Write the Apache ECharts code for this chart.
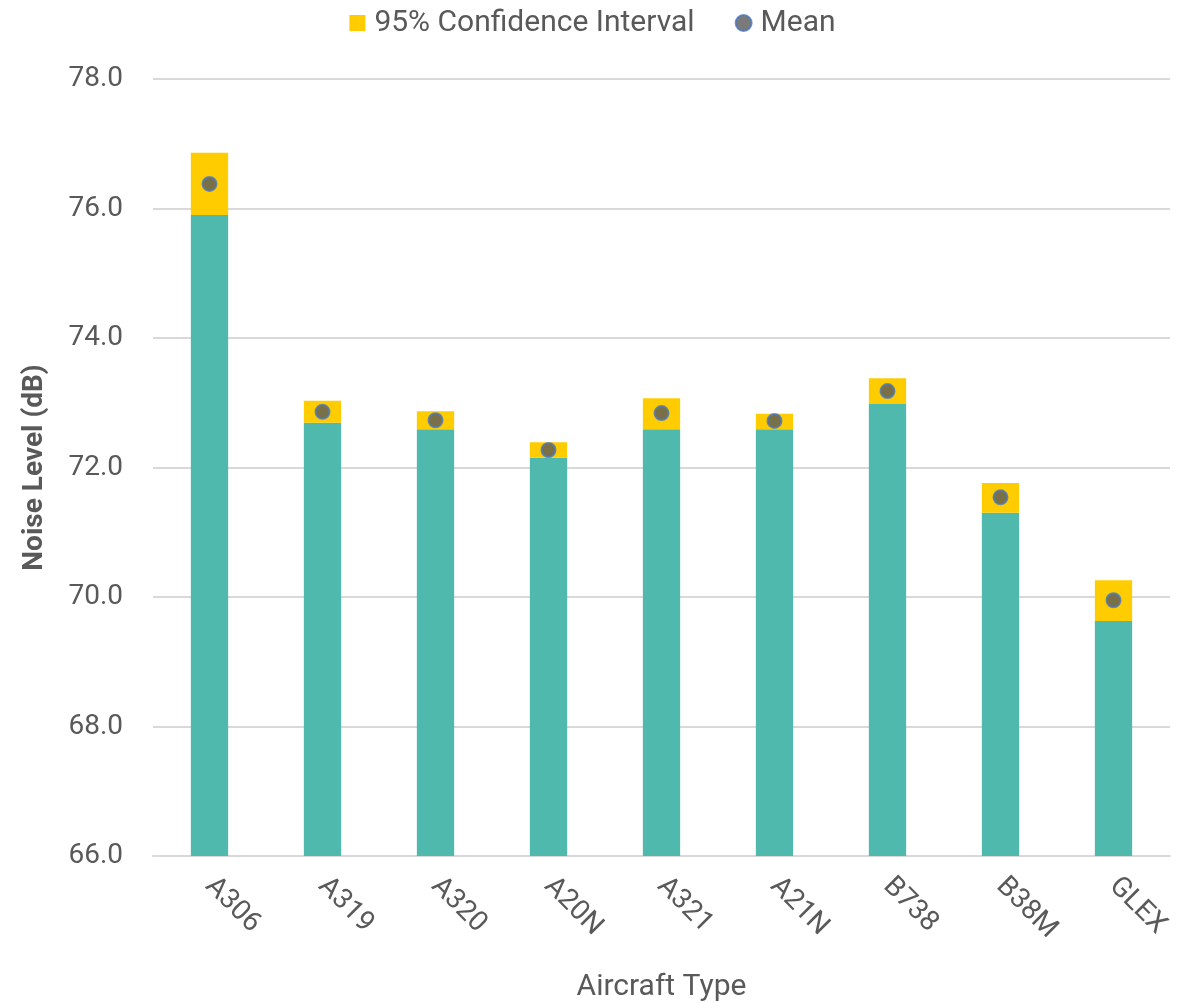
<!DOCTYPE html>
<html>
<head>
<meta charset="utf-8">
<script src="https://cdn.jsdelivr.net/npm/echarts@6/dist/echarts.min.js"></script>
<style>
  html, body { margin: 0; padding: 0; background: #fff; }
  #chartBox { width: 1185px; height: 1003px; }
</style>
</head>
<body>
<div id="chartBox"></div>
<script>
// values
const aircraft = ['A306', 'A319', 'A320', 'A20N', 'A321', 'A21N', 'B738', 'B38M', 'GLEX'];
const lowerCI = [75.90, 72.69, 72.59, 72.15, 72.59, 72.59, 72.98, 71.30, 69.63];
const upperCI = [76.86, 73.03, 72.87, 72.39, 73.07, 72.83, 73.38, 71.76, 70.26];
const meanVal = [76.38, 72.86, 72.73, 72.27, 72.84, 72.72, 73.18, 71.54, 69.95];
const yTicks = [66, 68, 70, 72, 74, 76, 78];

const grey = '#595959';
const fontFam = 'Roboto, "Noto Sans", sans-serif';

let myChart = echarts.init(document.getElementById('chartBox'));
myChart.setOption({
  textStyle: { fontFamily: fontFam },
  legend: {
    top: 3,
    left: 'center',
    data: [
      { name: '95% Confidence Interval', icon: 'rect' },
      { name: 'Mean', icon: 'circle' }
    ],
    itemWidth: 16,
    itemHeight: 16,
    itemGap: 40,
    textStyle: { color: grey, fontSize: 30, fontFamily: fontFam, padding: [0, 0, 0, 4] }
  },
  grid: { left: 153, right: 15, top: 79, bottom: 147, outerBoundsMode: 'none', containLabel: false },
  xAxis: {
    type: 'category',
    data: aircraft,
    name: 'Aircraft Type',
    nameLocation: 'middle',
    nameGap: 116,
    nameTextStyle: { color: grey, fontSize: 30, fontFamily: fontFam },
    axisLine: { lineStyle: { color: '#d9d9d9', width: 2 } },
    axisTick: { show: false },
    axisLabel: { color: grey, fontSize: 28, rotate: -45, margin: 26, interval: 0 }
  },
  yAxis: {
    type: 'value',
    min: yTicks[0],
    max: yTicks[yTicks.length - 1],
    interval: 2,
    name: 'Noise Level (dB)',
    nameLocation: 'middle',
    nameGap: 104,
    nameTextStyle: { color: grey, fontSize: 28, fontWeight: 'bold', fontFamily: fontFam },
    axisLine: { show: false },
    axisTick: { show: false },
    splitLine: { lineStyle: { color: '#d9d9d9', width: 2 } },
    axisLabel: {
      color: grey, fontSize: 28, margin: 30,
      formatter: v => v.toFixed(1)
    }
  },
  series: [
    {
      name: 'Lower',
      type: 'bar',
      stack: 'ci',
      barWidth: '33%',
      data: lowerCI,
      itemStyle: { color: '#50b9ae' },
      silent: true
    },
    {
      name: '95% Confidence Interval',
      type: 'bar',
      stack: 'ci',
      barWidth: '33%',
      data: upperCI.map((u, i) => +(u - lowerCI[i]).toFixed(2)),
      itemStyle: { color: '#ffcc00' }
    },
    {
      name: 'Mean',
      type: 'scatter',
      data: meanVal,
      symbolSize: 14,
      itemStyle: { color: '#595959', borderColor: '#4a78c2', borderWidth: 2 },
      z: 5
    }
  ]
});
</script>
</body>
</html>
